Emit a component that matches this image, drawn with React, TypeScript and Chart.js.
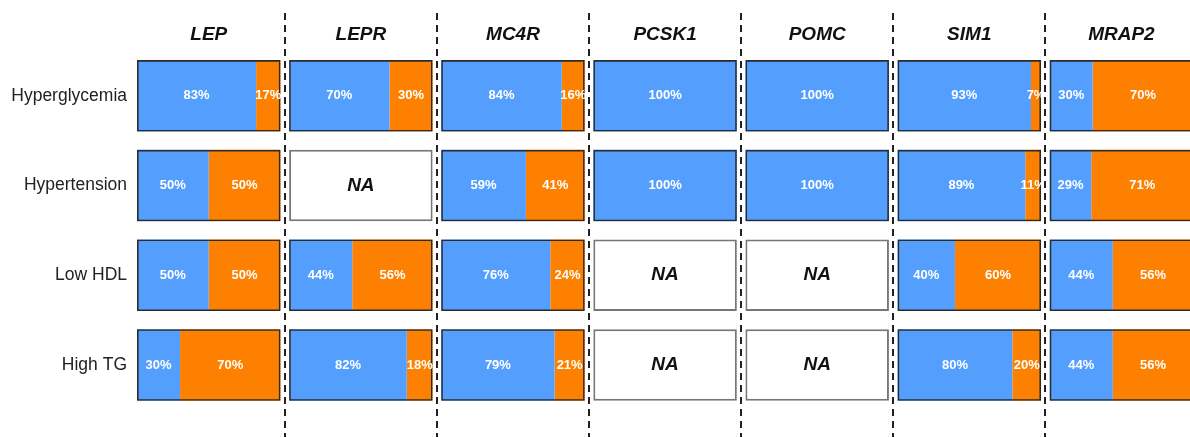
import React, { useEffect, useRef } from "react";
import { Chart, registerables } from "chart.js";

Chart.register(...registerables);

const GENES = ["LEP", "LEPR", "MC4R", "PCSK1", "POMC", "SIM1", "MRAP2"];
const CONDITIONS = ["Hyperglycemia", "Hypertension", "Low HDL", "High TG"];

// [blue %, orange %] per condition; null = NA
const LEP_PCT = [[83, 17], [50, 50], [50, 50], [30, 70]];
const LEPR_PCT = [[70, 30], null, [44, 56], [82, 18]];
const MC4R_PCT = [[84, 16], [59, 41], [76, 24], [79, 21]];
const PCSK1_PCT = [[100, 0], [100, 0], null, null];
const POMC_PCT = [[100, 0], [100, 0], null, null];
const SIM1_PCT = [[93, 7], [89, 11], [40, 60], [80, 20]];
const MRAP2_PCT = [[30, 70], [29, 71], [44, 56], [44, 56]];

const GENE_DATA: (number[] | null)[][] = [LEP_PCT, LEPR_PCT, MC4R_PCT, PCSK1_PCT, POMC_PCT, SIM1_PCT, MRAP2_PCT];

const PITCH = 106.0;
const FULL = 100;
const X_MAX = 733.8;

const BLUE = "#549ffd";
const ORANGE = "#fe8001";
const FONT = "'Liberation Sans', Arial, Helvetica, sans-serif";

export default function App() {
  const ref = useRef<HTMLCanvasElement | null>(null);

  useEffect(() => {
    if (!ref.current) return;
    const datasets: any[] = [];
    GENE_DATA.forEach((rows, g) => {
      const start = g * PITCH;
      datasets.push({
        label: GENES[g] + " blue",
        data: rows.map((r) => (r && r[0] > 0 ? [start, start + r[0]] : null)),
        backgroundColor: BLUE,
        borderWidth: 0,
        order: 2,
      });
      datasets.push({
        label: GENES[g] + " orange",
        data: rows.map((r) => (r && r[1] > 0 ? [start + r[0], start + r[0] + r[1]] : null)),
        backgroundColor: ORANGE,
        borderWidth: 0,
        order: 2,
      });
      datasets.push({
        label: GENES[g] + " frame",
        data: rows.map(() => [start, start + FULL]),
        backgroundColor: rows.map((r) => (r ? "rgba(0,0,0,0)" : "#ffffff")),
        borderColor: rows.map((r) => (r ? "#2b2b2b" : "#777777")),
        borderWidth: rows.map((r) => (r ? 1.6 : 2)),
        borderSkipped: false,
        order: 1,
      });
    });

    const overlay = {
      id: "overlay",
      afterDatasetsDraw(chart: any) {
        const { ctx, scales } = chart;
        const xs = scales.x;
        const ys = scales.y;
        ctx.save();
        ctx.textAlign = "center";
        ctx.textBaseline = "middle";
        GENE_DATA.forEach((rows, g) => {
          const start = g * PITCH;
          rows.forEach((r, i) => {
            const y = ys.getPixelForValue(i);
            if (!r) {
              ctx.fillStyle = "#111111";
              ctx.font = `italic bold 19px ${FONT}`;
              ctx.fillText("NA", xs.getPixelForValue(start + FULL / 2), y);
              return;
            }
            ctx.fillStyle = "#ffffff";
            ctx.font = `bold 13px ${FONT}`;
            if (r[0] > 0) ctx.fillText(r[0] + "%", xs.getPixelForValue(start + r[0] / 2), y);
            if (r[1] > 0) ctx.fillText(r[1] + "%", xs.getPixelForValue(start + r[0] + r[1] / 2), y);
          });
        });
        // dashed separators
        ctx.strokeStyle = "#222222";
        ctx.lineWidth = 2;
        ctx.setLineDash([7, 5]);
        for (let g = 1; g < GENES.length; g++) {
          const x = Math.round(xs.getPixelForValue(g * PITCH - (PITCH - FULL) / 2));
          ctx.beginPath();
          ctx.moveTo(x, 13);
          ctx.lineTo(x, chart.height);
          ctx.stroke();
        }
        ctx.restore();
      },
    };

    const chart = new Chart(ref.current, {
      type: "bar",
      data: { labels: CONDITIONS, datasets },
      options: {
        animation: false,
        responsive: true,
        maintainAspectRatio: false,
        indexAxis: "y",
        layout: { padding: { top: 0, bottom: 27.15, left: 0, right: 0 } },
        datasets: { bar: { grouped: false, barPercentage: 0.797, categoryPercentage: 1 } } as any,
        plugins: { legend: { display: false }, tooltip: { enabled: false } },
        scales: {
          x: {
            type: "linear",
            position: "top",
            min: 0,
            max: X_MAX,
            grid: { display: false, drawTicks: false },
            border: { display: false },
            afterFit: (s: any) => {
              s.height = 50.95;
            },
            afterBuildTicks: (s: any) => {
              s.ticks = GENES.map((_, g) => ({ value: g * PITCH + FULL / 2 }));
            },
            ticks: {
              autoSkip: false,
              maxRotation: 0,
              padding: 5,
              color: "#111111",
              font: { family: FONT, size: 19, weight: "bold", style: "italic" },
              callback: (_v: any, i: number) => GENES[i],
            },
          },
          y: {
            type: "category",
            grid: { display: false, drawTicks: false },
            border: { display: false },
            afterFit: (s: any) => {
              s.width = 137;
            },
            ticks: {
              padding: 10,
              color: "#222222",
              font: { family: FONT, size: 17.5 },
            },
          },
        },
      },
      plugins: [overlay],
    });
    return () => chart.destroy();
  }, []);

  return (
    <div style={{ position: "fixed", left: 0, top: 0, width: 1190, height: 437, background: "#ffffff" }}>
      <canvas ref={ref} />
    </div>
  );
}
